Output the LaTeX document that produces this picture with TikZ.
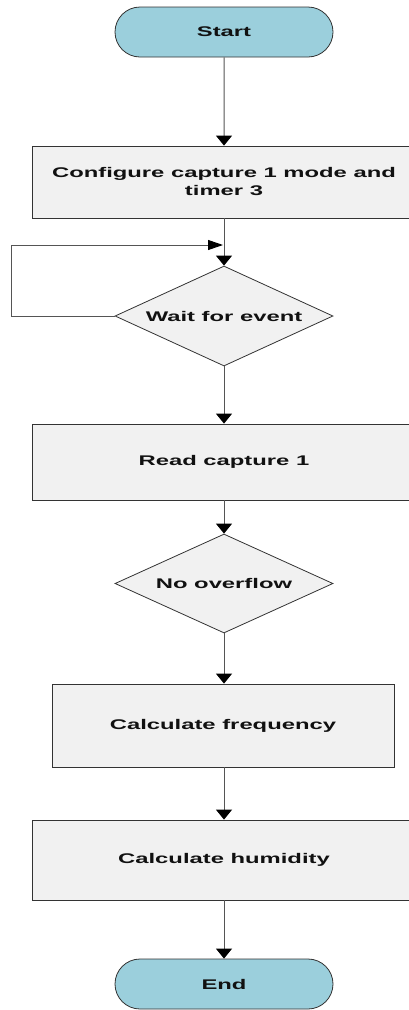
\documentclass[tikz,border=0pt]{standalone}
\usepackage{fontspec}
\newfontfamily\wideface[FakeStretch=1.7]{Liberation Sans}
\usetikzlibrary{shapes.geometric,shapes.misc,arrows.meta}

\definecolor{termfill}{HTML}{9BCFDC}
\definecolor{stepfill}{HTML}{F1F1F1}
\definecolor{edgegray}{HTML}{333333}
\definecolor{linegray}{HTML}{555555}
\definecolor{inkgray}{HTML}{111111}

\tikzset{
  base/.style={draw=edgegray, line width=0.8pt, text=inkgray,
    font=\wideface\bfseries\fontsize{14}{18}\selectfont, align=center, inner sep=0pt},
  terminal/.style={base, rounded rectangle, fill=termfill,
    minimum width=218pt, minimum height=50pt},
  stepbox/.style={base, rectangle, fill=stepfill, minimum width=384pt},
  decision/.style={base, diamond, fill=stepfill, aspect=2.18,
    minimum width=218pt, minimum height=100pt},
  flow/.style={draw=linegray, line width=1pt,
    -{Triangle[width=16pt,length=10pt,color=black]}},
  sideflow/.style={draw=linegray, line width=1pt,
    -{Triangle[width=10pt,length=15pt,color=black]}}
}

\begin{document}
\begin{tikzpicture}[x=1pt,y=-1pt]
  \useasboundingbox (0,0) rectangle (409,1010);

  % flow chart steps, top to bottom
  \node[terminal] (start) at (224,32) {Start};
  \node[stepbox, minimum height=72pt] (cfg) at (224,182)
    {Configure capture 1 mode and\\timer 3};
  \node[decision] (wait) at (224,316) {Wait for event};
  \node[stepbox, minimum height=76pt] (read) at (224,462) {Read capture 1};
  \node[decision, minimum height=99pt] (ovf) at (224,583.5) {No overflow};
  \node[stepbox, minimum width=342pt, minimum height=83pt] (freq) at (223,725.5)
    {Calculate frequency};
  \node[stepbox, minimum height=80pt] (hum) at (224,860) {Calculate humidity};
  \node[terminal] (end) at (224,984) {End};

  % loop back while waiting
  \coordinate (loopturn) at (11,245);
  \coordinate (loopjoin) at (223,245);

  \draw[flow] (start) -- (cfg);
  \draw[flow] (cfg) -- (wait);
  \draw[sideflow] (wait.west) -| (loopturn) -- (loopjoin);
  \draw[flow] (wait) -- (read);
  \draw[flow] (read) -- (ovf);
  \draw[flow] (ovf.south) -- (freq.north -| ovf.south);
  \draw[flow] (freq.south -| hum.north) -- (hum);
  \draw[flow] (hum) -- (end);
\end{tikzpicture}
\end{document}
